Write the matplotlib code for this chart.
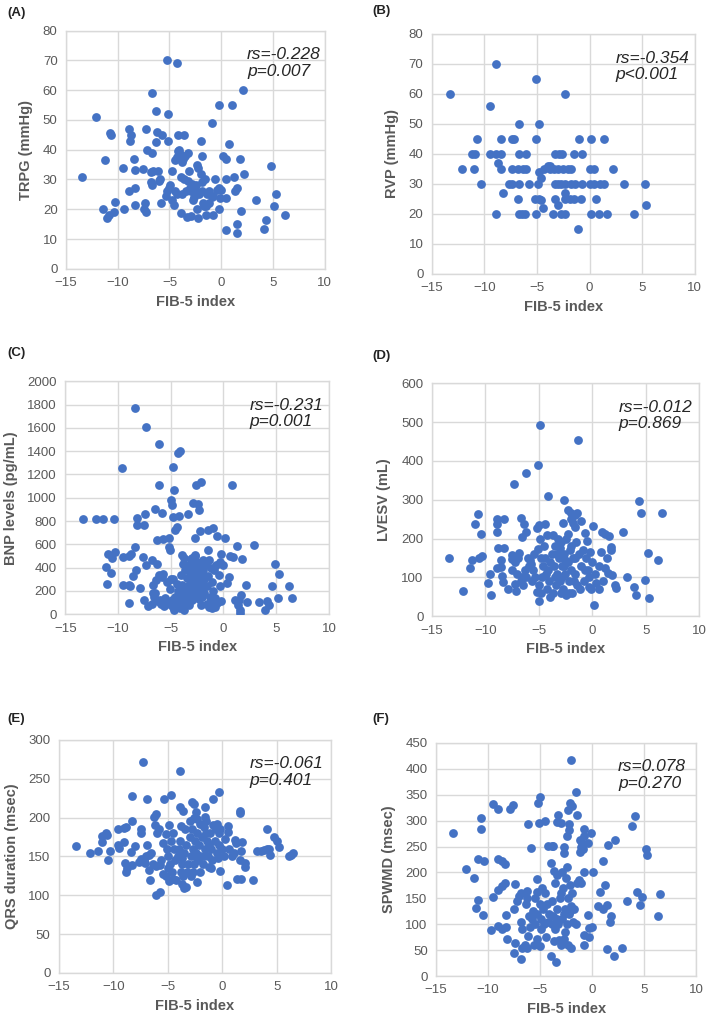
import numpy as np
import matplotlib
matplotlib.use("Agg")
import matplotlib.pyplot as plt

plt.rcParams['font.family'] = ['Liberation Sans', 'DejaVu Sans']

# (FIB-5 index, value) pairs
trpg = [(-13.4,31),(-12.1,51),(-11.2,36.5),(-11.4,20),(-11.0,17),(-10.8,18),(-10.7,45.5),(-10.6,45),(-10.4,19),(-10.3,22.5),
        (-9.5,34),(-9.4,20),(-8.9,47),(-8.7,45),(-8.8,43),(-8.9,26),(-8.4,37),(-8.3,33.3),(-8.3,27),(-8.3,21.5),
        (-7.6,33.6),(-7.4,22),(-7.5,20),(-7.3,19),(-7.3,47),(-7.2,40),(-6.7,59),(-6.7,39),(-6.8,32.5),(-6.6,33),
        (-6.8,29),(-6.7,28),(-6.3,53),(-6.2,46),(-6.3,42.5),(-6.1,33),(-5.9,30),(-6.0,29.5),(-5.8,22),(-5.7,45),
        (-5.2,70),(-5.1,52),(-5.1,43),(-4.3,69),(-4.2,45),(-3.6,45),(-4.1,40),(-4.3,37.5),(-3.8,36),(-3.5,38),
        (-3.2,39),(-4.5,36.5),(-4.0,38.5),(-3.7,37),(-4.2,39.5),(-4.8,33),(-4.9,28),(-5.0,27),(-5.2,26),(-5.3,24.5),
        (-4.8,23),(-4.5,26),(-4.6,21.5),(-4.3,25),(-3.9,18.7),(-3.8,25),(-3.9,31),(-3.1,33),(-3.2,29.5),(-2.9,17.6),
        (-2.6,26),(-2.7,23),(-2.9,26),(-2.5,27.5),(-2.6,24),(-2.3,35),(-2.2,34),(-2.0,43),(-1.9,38),(-2.0,32),
        (-1.9,29),(-1.9,26),(-1.6,30),(-1.4,25),(-2.3,20),(-2.2,17),(-1.5,18.2),(-1.8,22),(-1.2,22),(-0.9,24),
        (-1.5,21),(-3.3,17.5),(-2.4,28),(-2.1,25),(-2.8,28.5),(-3.0,27),(-0.9,49),(-0.6,30),(-0.8,24.3),(-0.8,18.2),
        (-0.2,55),(-0.2,27),(-0.1,23.8),(-0.2,20),(0.2,38),(0.5,37),(0.5,30),(0.5,23.8),(0.5,13),(0.8,42),
        (1.0,55),(1.2,31),(1.3,26),(1.5,27),(1.8,37),(1.9,19.3),(1.5,15),(1.5,12),(2.1,60),(2.2,32),
        (3.4,23),(4.1,13.5),(4.3,16.5),(4.8,34.5),(5.1,21),(5.3,25),(6.2,18),(-1.2,26),(-0.4,26.5),(0.0,26.6),
        (-3.6,30),(-3.4,26),(-1.7,21)]

rvp = [(-13.3,60),(-8.9,70),(-5.1,65),(-2.3,60),(-9.5,56),(-6.7,50),(-4.8,50),
       (-10.7,45),(-8.4,45),(-7.4,45),(-7.2,45),(-5.1,45),(-1.0,45),(0.1,45),(1.4,45),
       (-11.2,40),(-10.9,40),(-9.5,40),(-8.9,40),(-8.4,40),(-6.7,40),(-6.0,40),(-3.3,40),(-2.9,40),(-2.6,40),(-1.5,40),(-0.7,40),
       (-8.7,37),
       (-12.1,35),(-11.0,35),(-8.4,35),(-7.4,35),(-6.8,35),(-6.3,35),(-6.0,35),(-4.3,35),(-3.8,35),(-3.4,35),(-3.0,35),
       (-2.5,35),(-2.1,35),(-1.8,35),(0.0,35),(0.4,35),(2.2,35),
       (-4.0,36),(-3.8,36),(-4.8,34),
       (-10.3,30),(-7.7,30),(-7.4,30),(-6.7,30),(-5.8,30),(-4.9,30),(-3.3,30),(-3.0,30),(-2.7,30),(-2.3,30),(-1.8,30),
       (-1.4,30),(-0.7,30),(0.0,30),(0.4,30),(1.0,30),(1.4,30),(3.3,30),(5.3,30),
       (-4.6,32),(-8.2,27),
       (-6.8,25),(-5.2,25),(-4.8,25),(-3.3,25),(-2.3,25),(-1.9,25),(-1.5,25),(-0.8,25),(0.6,25),
       (-4.6,24.5),(-2.3,27),(-4.4,22),(-3.0,23),(5.4,23),
       (-8.9,20),(-6.7,20),(-6.4,20),(-6.1,20),(-5.1,20),(-3.5,20),(-2.7,20),(-2.3,20),(0.1,20),(0.9,20),(1.7,20),(4.2,20),
       (-1.1,15)]

bnp = [(-13.3,818),(-12.1,818),(-11.4,818),(-10.4,818),(-8.4,1771),(-7.3,1611),(-6.1,1462),(-9.6,1259),(-4.8,1262),(-4.3,1385),
       (-4.1,1400),(-6.1,1107),(-2.6,1113),(-2.1,1136),(0.8,1107),(-4.7,1070),(-5.0,979),(-4.9,936),(-2.9,951),(-2.4,943),
       (-2.3,898),(-6.5,899),(-5.8,870),(-7.4,861),(-8.2,822),(-8.2,765),(-7.5,770),(-4.8,835),(-4.2,841),(-3.4,864),
       (-4.4,750),(-4.6,721),(-2.2,715),(-1.5,727),(-1.0,736),(-0.6,672),(-2.7,658),(0.1,658),(1.3,584),(2.9,595),
       (-6.3,635),(-5.7,645),(-5.2,650),(-5.2,578),(-5.1,550),(-8.4,578),(-10.3,532),(-10.9,515),(-10.6,481),(-9.5,492),
       (-9.0,498),(-8.8,515),(-7.6,489),(-6.8,469),(-7.3,421),(-6.3,435),(-11.1,407),(-10.7,355),(-11.0,263),(-9.5,255),
       (-9.0,255),(-8.9,240),(-8.3,383),(-8.6,329),(-7.9,229),(-9.0,97),(-7.5,126),(-7.2,69),(-6.6,149),(-6.7,180),
       (-6.1,335),(-5.7,349),(-5.0,306),(-4.0,340),(-3.9,506),(-1.5,549),(-2.7,512),(-0.2,521),(0.6,498),(0.9,492),
       (1.8,470),(-1.9,463),(-1.4,463),(-0.3,449),(0.0,420),(0.5,320),(0.3,272),(-0.3,240),(2.1,249),(4.9,429),
       (5.3,349),(4.6,243),(6.2,243),(5.2,143),(6.5,143),(3.4,106),(4.1,112),(3.9,40),(4.3,83),(1.6,40),
       (1.6,10),(1.7,163),(1.5,126),(1.1,120),(2.2,106),(1.4,80),
       (-4.8,60),(-4.5,90),(-4.1,50),(-3.9,120),(-3.6,200),(-3.3,80),(-3.0,260),(-2.8,330),(-2.6,400),(-2.5,450),
       (-2.4,370),(-2.2,300),(-2.0,240),(-1.8,180),(-1.6,90),(-1.4,60),(-1.2,120),(-1.0,200),(-0.8,140),(-0.6,100),
       (-2.9,420),(-3.2,360),(-3.5,310),(-3.8,430),(-3.4,150),(-2.3,130),(-2.1,80),(-1.9,380),(-1.5,330),(-1.1,280),
       (-2.7,500),(-3.1,470),(-4.3,200),(-4.6,150),(-5.3,100),(-5.6,70),(-5.9,90),(-6.2,110),(-6.5,180),(-6.7,250),
       (-6.4,290),(-5.8,320),(-4.9,120),(-4.4,260),(-3.7,40),(-2.4,200),(-1.7,420),(-0.9,380),(-0.4,340),(-3.0,480),
       (-2.6,160),(-3.6,100),(-4.0,160),(-5.1,220),(-5.4,280),(-3.3,250),(-2.9,190),(-2.2,250),(-1.3,150),(-0.2,110),
       (-2.8,380),(-3.1,300),(-2.5,340),(-2.0,410),(-3.4,420),(-2.7,290),(-2.3,440),(-3.6,380),(-2.1,350),(-1.8,300),
       (-1.6,240),(-3.9,250),(-4.2,130),(-3.2,200),(-2.6,230),(-4.7,40),(-5.0,80),(-4.4,60),(-0.8,60),(-1.1,50),
       (-3.0,120),(-2.0,150),(-1.2,400),(-0.7,420),(-6.0,120),(-6.8,90),(-5.5,140),(-4.8,300),(-3.7,480)]

lvesv = [(-13.4,150),(-12.1,65),(-11.4,125),(-11.2,144),(-11.0,238),(-10.7,263),(-10.4,211),(-10.6,150),(-10.3,154),(-9.6,108),
         (-9.7,85),(-9.5,55),(-8.9,251),(-8.9,238),(-8.9,216),(-8.8,176),(-8.5,144),(-8.5,128),(-8.9,125),(-8.2,250),
         (-8.2,176),(-8.4,104),(-8.3,88),(-7.9,69),(-7.3,340),(-7.5,158),(-7.5,148),(-7.5,120),(-7.2,83),(-7.1,66),
         (-6.7,254),(-6.6,204),(-6.4,237),(-6.2,216),(-6.2,369),(-6.8,163),(-6.6,101),(-6.7,92),(-5.8,144),(-5.7,135),
         (-5.2,228),(-5.0,234),(-5.1,390),(-4.9,492),(-5.1,174),(-5.0,40),(-5.2,62),(-4.4,238),(-4.2,210),(-4.1,310),
         (-2.6,300),(-2.3,273),(-2.0,266),(-1.6,260),(-1.4,266),(-1.0,245),(-1.3,454),(-1.6,230),(-2.3,213),(-0.7,214),
         (-0.5,195),(0.1,232),(0.9,217),(1.2,211),(1.6,207),(1.8,178),(1.8,170),(0.8,165),(2.9,218),(2.1,81),
         (2.2,72),(3.3,101),(3.9,75),(4.1,56),(4.4,296),(4.6,266),(5.2,163),(4.9,93),(5.3,48),(6.5,267),
         (6.2,144),(0.2,29),(-0.3,75),(-0.1,70),(0.6,70),(1.2,123),(1.5,112),(1.9,105),(0.4,86),(-2.0,250),
         (-1.8,240),
         (-6.0,150),(-5.5,120),(-5.3,100),(-5.0,80),(-4.8,150),(-4.6,130),(-4.5,180),(-4.3,110),(-4.0,90),(-3.8,160),
         (-3.6,130),(-3.5,180),(-3.3,110),(-3.1,150),(-3.0,90),(-2.9,190),(-2.8,130),(-2.7,70),(-2.6,160),(-2.5,110),
         (-2.4,200),(-2.3,140),(-2.2,90),(-2.1,170),(-2.0,120),(-1.9,60),(-1.8,150),(-1.6,110),(-1.4,80),(-1.2,160),
         (-1.0,130),(-0.8,90),(-0.6,150),(-0.4,120),(-0.2,165),(0.0,140),(0.3,110),(0.6,130),(-3.7,60),(-3.9,50),
         (-4.2,70),(-4.7,100),(-5.6,90),(-6.3,120),(-6.5,80),(-7.0,110),(-5.9,130),(-3.2,200),(-2.9,60),(-2.4,55),
         (-1.7,90),(-0.9,170),(-3.4,80),(-4.4,150),(-3.0,175),(-2.7,240),(-1.5,190),(-0.3,100),(-6.9,150),(-5.4,160),
         (-4.1,120),(-3.5,100),(-2.6,130),(-2.2,60),(-1.1,70),(1.0,90),(1.4,150),(-4.9,200),(-3.7,210),(-2.8,100),
         (-2.0,180),(-4.8,60),(-3.3,160),(-2.5,145),(-3.9,140),(-1.6,150),(-0.7,120),(-6.2,100),(-7.2,140)]

qrs = [(-13.4,164),(-12.1,154),(-11.4,157),(-11.0,176),(-11.0,168),(-10.7,180),(-10.6,178),(-10.5,145),(-10.3,157),(-9.6,185),
       (-9.6,165),(-9.5,161),(-9.0,169),(-9.0,186),(-8.8,188),(-8.9,141),(-8.8,130),(-8.7,135),(-8.4,156),(-8.3,196),
       (-8.3,228),(-8.0,164),(-8.3,139),(-7.5,185),(-7.5,180),(-7.3,272),(-7.5,147),(-7.2,145),(-7.1,141),(-6.9,224),
       (-6.9,165),(-6.7,152),(-6.7,132),(-6.6,120),(-6.3,201),(-6.1,205),(-6.2,190),(-6.0,180),(-5.8,185),(-6.4,140),
       (-6.1,138),(-6.1,100),(-5.7,104),(-5.7,139),(-5.4,167),(-5.2,179),(-5.3,224),(-4.7,229),(-4.9,190),(-4.7,170),
       (-5.4,128),(-5.2,125),(-5.0,135),(-4.5,121),(-3.9,214),(-3.6,209),(-3.9,260),(-3.8,189),(-4.4,160),(-4.1,150),
       (-3.7,148),(-3.3,111),(-3.7,115),(-2.8,220),(-2.6,218),(-2.4,207),(-2.3,198),(-2.0,192),(-1.7,188),(-2.3,117),
       (-1.6,214),(-1.6,201),(-0.8,224),(-0.3,233),(-0.8,190),(-0.5,192),(-0.2,185),(-0.3,180),(-1.2,137),(-0.2,131),
       (0.4,113),(0.5,189),(0.5,182),(1.2,171),(1.3,167),(1.6,209),(1.6,206),(1.4,121),(1.7,121),(1.6,145),
       (1.8,169),(1.7,157),(2.1,141),(2.1,136),(2.8,120),(3.2,157),(3.6,157),(3.8,158),(4.1,160),(4.1,185),
       (4.4,152),(4.3,160),(4.8,175),(5.0,170),(5.2,162),(6.1,151),(6.3,152),(6.5,154),
       (-5.0,150),(-4.8,140),(-4.6,130),(-4.3,145),(-4.0,160),(-3.8,130),(-3.5,155),(-3.3,165),(-3.1,140),(-3.0,175),
       (-2.9,150),(-2.8,185),(-2.7,160),(-2.6,140),(-2.5,170),(-2.4,155),(-2.3,180),(-2.2,145),(-2.1,165),(-2.0,150),
       (-1.9,175),(-1.8,140),(-1.6,160),(-1.4,170),(-1.3,150),(-1.1,180),(-1.0,160),(-0.9,145),(-0.7,170),(-0.5,155),
       (-0.3,165),(0.0,160),(0.2,150),(0.6,160),(0.9,150),(1.1,155),(-3.6,125),(-3.2,130),(-2.9,125),(-4.2,120),
       (-5.6,145),(-6.5,155),(-7.0,150),(-7.6,143),(-3.4,185),(-3.0,195),(-2.6,200),(-1.5,180),(-1.2,165),(-0.6,185),
       (-4.5,180),(-5.1,160),(-3.9,170),(-3.7,140),(-2.7,130),(-1.7,150),(-1.0,135),(-0.4,148),(0.3,172),(-4.9,118),
       (-2.0,130),(-2.5,150),(-1.5,195),(-3.5,110)]

spwmd = [(-13.4,277),(-12.1,207),(-11.4,189),(-11.0,226),(-11.0,146),(-11.2,132),(-10.7,305),(-10.7,284),(-10.5,117),(-10.4,222),
         (-9.5,333),(-9.0,322),(-9.7,89),(-9.5,152),(-9.0,226),(-8.7,222),(-8.4,217),(-9.0,166),(-8.7,173),(-8.4,180),
         (-9.0,97),(-8.7,90),(-8.3,94),(-8.3,118),(-8.2,72),(-7.9,322),(-7.6,331),(-7.5,44),(-7.4,64),(-7.4,177),
         (-7.2,145),(-7.0,155),(-6.8,160),(-7.5,129),(-6.7,54),(-6.8,33),(-6.8,104),(-6.7,90),(-6.5,60),(-6.3,55),
         (-6.2,294),(-5.9,248),(-6.3,164),(-6.3,150),(-6.1,115),(-6.2,77),(-5.7,125),(-5.3,120),(-5.3,187),(-5.2,335),
         (-5.0,345),(-5.1,295),(-5.3,162),(-5.0,140),(-4.9,110),(-5.3,71),(-5.0,57),(-4.5,299),(-4.2,251),(-3.9,251),
         (-3.8,251),(-4.0,218),(-3.7,202),(-3.4,195),(-3.3,311),(-3.4,298),(-3.0,295),(-2.7,250),(-2.7,238),(-2.3,320),
         (-2.1,334),(-1.9,328),(-2.2,293),(-2.2,282),(-2.4,271),(-2.0,418),(-1.6,355),(-1.5,311),(-1.2,263),(-1.0,257),
         (-0.8,270),(-0.8,284),(-0.4,257),(-0.1,277),(-0.8,200),(0.1,200),(1.0,222),(1.5,253),(2.2,262),(0.8,163),
         (1.2,176),(0.6,135),(1.0,130),(1.4,137),(1.8,115),(1.7,105),(1.4,52),(2.1,39),(2.9,55),(3.3,144),
         (3.8,289),(4.1,309),(4.3,163),(4.6,137),(4.8,153),(5.2,246),(5.3,233),(6.5,159),(6.3,115),(-0.8,79),
         (-0.3,76),(-0.3,92),(0.0,95),(-0.4,118),(-0.8,59),(-2.0,55),(-3.5,28),(-4.0,39),(-3.7,68),(-3.2,70),
         (-2.7,71),(-3.0,60),
         (-4.8,170),(-4.5,160),(-4.3,140),(-4.1,120),(-3.9,100),(-3.6,90),(-3.4,130),(-3.1,150),(-2.9,110),(-2.8,170),
         (-2.6,130),(-2.5,190),(-2.4,100),(-2.3,150),(-2.2,120),(-2.1,175),(-2.0,135),(-1.9,160),(-1.7,130),(-1.5,180),
         (-1.3,185),(-1.1,180),(-4.6,100),(-5.5,100),(-5.8,110),(-6.0,95),(-4.4,75),(-3.8,115),(-3.3,100),(-2.6,85),
         (-2.3,60),(-1.8,105),(-2.9,200),(-3.0,160),(-2.4,210),(-4.7,130),(-5.6,60),(-4.9,90),(-3.6,180),(-2.1,125),
         (-1.6,100),(-3.9,145),(-2.7,120),(-4.2,105),(-6.4,140),(-5.5,150),(-1.2,240),(-0.9,245),(-1.1,250),(-2.8,65),
         (-3.4,110)]

panel_tags = ['(A)', '(B)', '(C)', '(D)', '(E)', '(F)']
y_titles = ['TRPG (mmHg)', 'RVP (mmHg)', 'BNP levels (pg/mL)', 'LVESV (mL)', 'QRS duration (msec)', 'SPWMD (msec)']
stats = ['rs=-0.228\np=0.007', 'rs=-0.354\np<0.001', 'rs=-0.231\np=0.001',
         'rs=-0.012\np=0.869', 'rs=-0.061\np=0.401', 'rs=0.078\np=0.270']
y_max = [80, 80, 2000, 600, 300, 450]
y_step = [10, 10, 200, 100, 50, 50]
datasets = [trpg, rvp, bnp, lvesv, qrs, spwmd]

# axes boxes in figure fractions: left, bottom, width, height
boxes = [(0.093, 0.737, 0.365, 0.233), (0.609, 0.732, 0.371, 0.235),
         (0.092, 0.399, 0.372, 0.228), (0.609, 0.397, 0.377, 0.228),
         (0.083, 0.048, 0.384, 0.228), (0.615, 0.045, 0.367, 0.228)]
tag_pos = [(0.010, 0.993), (0.525, 0.995), (0.010, 0.660), (0.525, 0.658),
           (0.010, 0.302), (0.525, 0.302)]

BLUE = '#4472C4'
GRID = '#D9D9D9'
TXT = '#595959'

fig = plt.figure(figsize=(7.09, 10.22), dpi=100)

for i in range(6):
    pts = np.array(datasets[i])
    ax = fig.add_axes(boxes[i])
    ax.scatter(pts[:, 0], pts[:, 1], s=40, color=BLUE, linewidths=0, zorder=3)
    ax.set_xlim(-15, 10)
    ax.set_ylim(0, y_max[i])
    ax.set_xticks(np.arange(-15, 11, 5))
    ax.set_yticks(np.arange(0, y_max[i] + 1, y_step[i]))
    ax.grid(True, color=GRID, linewidth=1.0, zorder=0)
    ax.set_axisbelow(True)
    for sp in ax.spines.values():
        sp.set_color(GRID)
        sp.set_linewidth(1.0)
    ax.tick_params(length=0, labelsize=9.5, labelcolor=TXT, pad=6)
    ax.set_xlabel('FIB-5 index', fontsize=10.5, fontweight='bold', color=TXT, labelpad=4)
    ax.set_ylabel(y_titles[i], fontsize=10.5, fontweight='bold', color=TXT, labelpad=7)
    ax.text(0.70, 0.93, stats[i], transform=ax.transAxes, ha='left', va='top',
            fontsize=12.5, style='italic', color='#262626', linespacing=1.15)
    fig.text(tag_pos[i][0], tag_pos[i][1], panel_tags[i], fontsize=9.5, fontweight='bold',
             ha='left', va='top', color='#222222')

fig.savefig('out.png', dpi=100)
